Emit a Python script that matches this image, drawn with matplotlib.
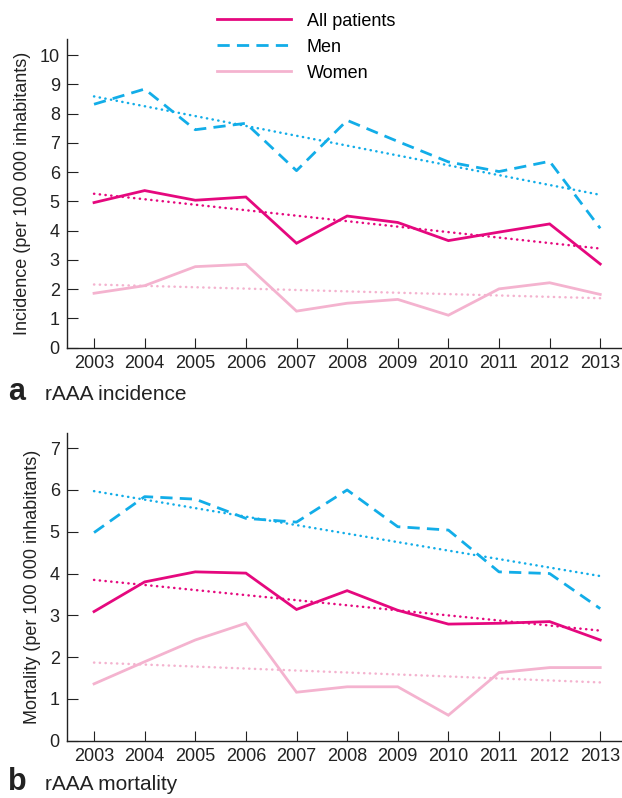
import numpy as np
import matplotlib
matplotlib.use("Agg")
import matplotlib.pyplot as plt

plt.rcParams["font.family"] = ["Liberation Sans", "DejaVu Sans"]

years = [2003, 2004, 2005, 2006, 2007, 2008, 2009, 2010, 2011, 2012, 2013]

# incidence per 100 000 inhabitants
inc_all = [4.96, 5.37, 5.04, 5.15, 3.57, 4.50, 4.28, 3.66, 3.95, 4.23, 2.86]
inc_men = [8.32, 8.84, 7.45, 7.67, 6.05, 7.77, 7.05, 6.35, 6.02, 6.37, 4.08]
inc_women = [1.86, 2.12, 2.77, 2.85, 1.25, 1.52, 1.65, 1.11, 2.01, 2.22, 1.82]

# mortality per 100 000 inhabitants
mort_all = [3.09, 3.80, 4.04, 4.01, 3.14, 3.59, 3.12, 2.79, 2.81, 2.85, 2.41]
mort_men = [4.98, 5.84, 5.78, 5.32, 5.23, 6.00, 5.12, 5.04, 4.04, 4.00, 3.16]
mort_women = [1.36, 1.89, 2.41, 2.81, 1.16, 1.29, 1.29, 0.61, 1.63, 1.75, 1.75]

series_names = ["All patients", "Men", "Women"]

MAGENTA = "#e5087e"
CYAN = "#12ade8"
PINK = "#f4b3cf"

styles = {
    "All patients": dict(color=MAGENTA, lw=2.0, ls="-"),
    "Men": dict(color=CYAN, lw=2.0, ls=(0, (4.4, 2.6))),
    "Women": dict(color=PINK, lw=2.0, ls="-"),
}

fig = plt.figure(figsize=(6.22, 7.98), dpi=100)
W, H = 622, 798


def px_axes(left, top, right, bottom):
    return fig.add_axes([left / W, 1 - bottom / H, (right - left) / W, (bottom - top) / H])


def draw_panel(ax, data, ylim, yticks, ylabel):
    x = np.array(years)
    handles = []
    for name, vals in zip(series_names, data):
        st = styles[name]
        h, = ax.plot(x, vals, color=st["color"], lw=st["lw"], ls=st["ls"],
                     solid_joinstyle="miter", label=name, zorder=3)
        handles.append(h)
        # linear trend
        k, b = np.polyfit(x, vals, 1)
        ax.plot(x, k * x + b, color=st["color"], lw=1.8, ls=(0, (0.1, 2.2)),
                dash_capstyle="round", zorder=2)
    ax.set_xlim(2002.46, 2013.43)
    ax.set_ylim(*ylim)
    ax.set_xticks(years)
    ax.set_yticks(yticks)
    for s in ["top", "right"]:
        ax.spines[s].set_visible(False)
    for s in ["left", "bottom"]:
        ax.spines[s].set_linewidth(1.0)
        ax.spines[s].set_color("#222222")
    ax.tick_params(axis="x", direction="in", length=7.5, width=0.8, pad=5,
                   labelsize=13, colors="#222222")
    ax.tick_params(axis="y", direction="in", length=8, width=0.8, pad=5,
                   labelsize=13, colors="#222222")
    ax.set_ylabel(ylabel, fontsize=13, color="#222222", labelpad=6)
    return handles


ax1 = px_axes(66.7, 39.3, 622, 347.7)
handles = draw_panel(ax1, [inc_all, inc_men, inc_women], (0, 10.54), range(0, 11),
                     "Incidence (per 100 000 inhabitants)")

ax2 = px_axes(66.7, 432.7, 622, 740.7)
draw_panel(ax2, [mort_all, mort_men, mort_women], (0, 7.37), range(0, 8),
           "Mortality (per 100 000 inhabitants)")

fig.legend(handles=handles, loc="upper left", bbox_to_anchor=(216.5 / W, 1 - 12.5 / H),
           frameon=False, fontsize=13, handlelength=4.1, handletextpad=0.9,
           labelspacing=0.50, borderaxespad=0, borderpad=0)

fig.text(8 / W, 1 - 400 / H, "a", fontsize=22, fontweight="bold", va="baseline", color="#222222")
fig.text(45 / W, 1 - 400 / H, "rAAA incidence", fontsize=15, va="baseline", color="#222222")
fig.text(8 / W, 1 - 790 / H, "b", fontsize=22, fontweight="bold", va="baseline", color="#222222")
fig.text(45 / W, 1 - 790 / H, "rAAA mortality", fontsize=15, va="baseline", color="#222222")

fig.savefig("out.png", dpi=100)
